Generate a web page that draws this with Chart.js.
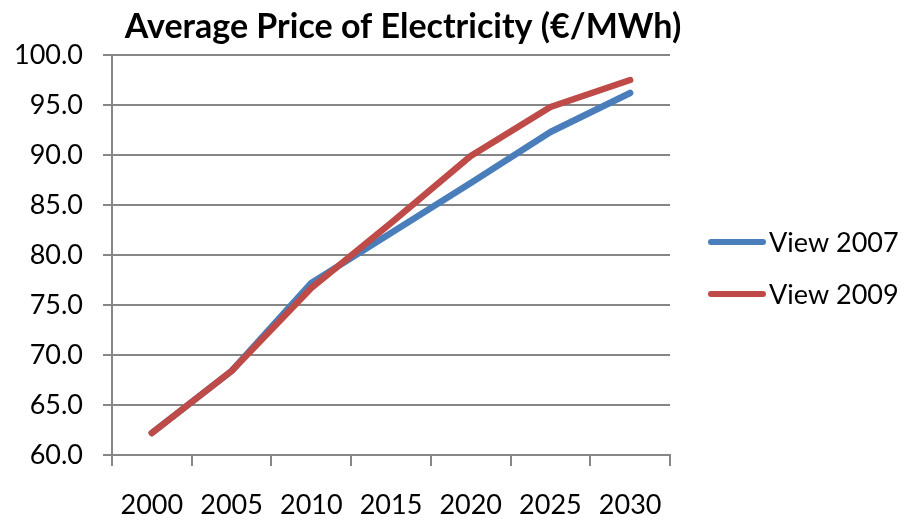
<!DOCTYPE html>
<html>
<head>
<meta charset="utf-8">
<script src="https://cdn.jsdelivr.net/npm/chart.js@4"></script>
<style>
html,body{margin:0;padding:0;background:#fff;}
#wrap{width:909px;height:520px;}
</style>
</head>
<body>
<div id="wrap"><canvas id="c" width="909" height="520"></canvas></div>
<script>
const title = 'Average Price of Electricity (€/MWh)';
const years = ['2000','2005','2010','2015','2020','2025','2030'];
const seriesNames = ['View 2007','View 2009'];
const view2007 = [62.2, 68.4, 77.2, 82.2, 87.2, 92.3, 96.2];
const view2009 = [62.2, 68.4, 76.7, 83.2, 89.9, 94.8, 97.5];
const yTicks = [60,65,70,75,80,85,90,95,100];

const BLUE = '#4A7EBB';
const RED = '#BE4B48';
const GRID = '#868686';
const FONT = 'Lato, "Open Sans", sans-serif';

const overlay = {
  id: 'overlay',
  afterDraw(chart) {
    const ctx = chart.ctx;
    ctx.save();
    ctx.fillStyle = '#000';
    ctx.font = 'bold 34px ' + FONT;
    ctx.textAlign = 'center';
    ctx.textBaseline = 'alphabetic';
    ctx.fillText(title, 403, 38);
    const items = [[seriesNames[0], BLUE, 242], [seriesNames[1], RED, 294]];
    items.forEach(([name, col, y]) => {
      ctx.strokeStyle = col;
      ctx.lineWidth = 6;
      ctx.lineCap = 'round';
      ctx.beginPath();
      ctx.moveTo(711, y);
      ctx.lineTo(763, y);
      ctx.stroke();
      ctx.fillStyle = '#000';
      ctx.font = '27px ' + FONT;
      ctx.textAlign = 'left';
      ctx.textBaseline = 'middle';
      ctx.fillText(name, 769, y + 1);
    });
    ctx.restore();
  }
};

new Chart(document.getElementById('c'), {
  type: 'line',
  data: {
    labels: years,
    datasets: [
      {label: seriesNames[0], data: view2007, borderColor: BLUE, backgroundColor: BLUE, order: 1},
      {label: seriesNames[1], data: view2009, borderColor: RED, backgroundColor: RED, order: 0}
    ]
  },
  options: {
    responsive: false,
    animation: false,
    devicePixelRatio: 1,
    layout: {padding: {left: 0, right: 239, top: 55, bottom: 0}},
    elements: {
      line: {borderWidth: 6.5, tension: 0, borderCapStyle: 'round', borderJoinStyle: 'round'},
      point: {radius: 0, hoverRadius: 0}
    },
    datasets: {line: {clip: false}},
    plugins: {legend: {display: false}, title: {display: false}, tooltip: {enabled: false}},
    scales: {
      x: {
        type: 'category',
        offset: true,
        grid: {offset: true, drawOnChartArea: false, drawTicks: true, tickLength: 11, color: GRID, lineWidth: 2},
        border: {display: true, color: GRID, width: 2},
        ticks: {color: '#000', font: {family: FONT, size: 27}, padding: 23, maxRotation: 0, autoSkip: false},
        afterFit(s) { s.height = 65; }
      },
      y: {
        min: 60, max: 100,
        afterBuildTicks(s) { s.ticks = yTicks.map(v => ({value: v})); },
        grid: {color: GRID, lineWidth: 2, tickLength: 9, drawTicks: true},
        border: {display: true, color: GRID, width: 2},
        ticks: {color: '#000', font: {family: FONT, size: 27}, padding: 20, callback: v => Number(v).toFixed(1)},
        afterFit(s) { s.width = 112; }
      }
    }
  },
  plugins: [overlay]
});
</script>
</body>
</html>
